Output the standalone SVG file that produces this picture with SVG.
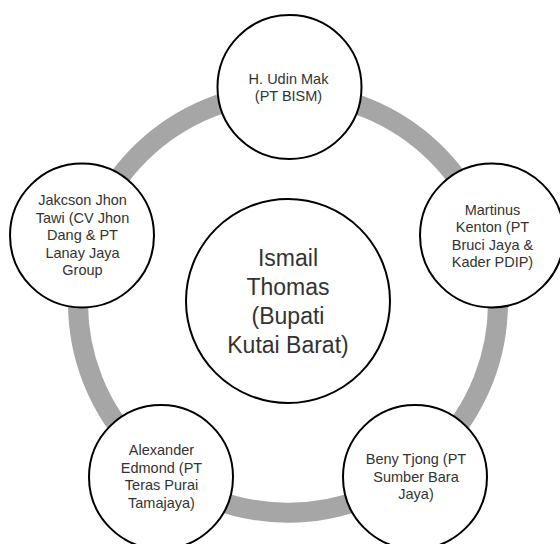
<svg xmlns="http://www.w3.org/2000/svg" width="560" height="544" viewBox="0 0 560 544">
<style>
.node{fill:#ffffff;stroke:#000000;stroke-width:2}
.ring{fill:none;stroke:#a6a6a6;stroke-width:20}
.t{font-family:"Liberation Sans",Arial,sans-serif;font-size:14.5px;fill:#333333;text-anchor:middle}
.tc{font-family:"Liberation Sans",Arial,sans-serif;font-size:23px;fill:#333333;text-anchor:middle}
</style>
<rect width="560" height="544" fill="#ffffff"/>
<g id="connectors">
<circle class="ring" cx="288" cy="302.7" r="210"/>
</g>
<g id="center">
<circle class="node" cx="288" cy="301" r="102"/>
<text class="tc" x="288" y="266">Ismail</text>
<text class="tc" x="288" y="295">Thomas</text>
<text class="tc" x="288" y="324">(Bupati</text>
<text class="tc" x="288" y="353">Kutai Barat)</text>
</g>
<g id="udin">
<circle class="node" cx="289.5" cy="87" r="72"/>
<text class="t" x="288.5" y="83.5">H. Udin Mak</text>
<text class="t" x="288.5" y="100.5">(PT BISM)</text>
</g>
<g id="martinus">
<circle class="node" cx="492" cy="235.5" r="72"/>
<text class="t" x="492.5" y="214.5">Martinus</text>
<text class="t" x="492.5" y="232">Kenton (PT</text>
<text class="t" x="492.5" y="249.5">Bruci Jaya &amp;</text>
<text class="t" x="492.5" y="267">Kader PDIP)</text>
</g>
<g id="beny">
<circle class="node" cx="415" cy="477" r="72"/>
<text class="t" x="416" y="464">Beny Tjong (PT</text>
<text class="t" x="416" y="481.5">Sumber Bara</text>
<text class="t" x="416" y="499">Jaya)</text>
</g>
<g id="alexander">
<circle class="node" cx="161" cy="477" r="72"/>
<text class="t" x="161.5" y="455">Alexander</text>
<text class="t" x="161.5" y="472.5">Edmond (PT</text>
<text class="t" x="161.5" y="490">Teras Purai</text>
<text class="t" x="161.5" y="507.5">Tamajaya)</text>
</g>
<g id="jakcson">
<circle class="node" cx="82" cy="235.5" r="72"/>
<text class="t" x="82.5" y="205">Jakcson Jhon</text>
<text class="t" x="82.5" y="222.5">Tawi (CV Jhon</text>
<text class="t" x="82.5" y="240">Dang &amp; PT</text>
<text class="t" x="82.5" y="257.5">Lanay Jaya</text>
<text class="t" x="82.5" y="275">Group</text>
</g>
</svg>
